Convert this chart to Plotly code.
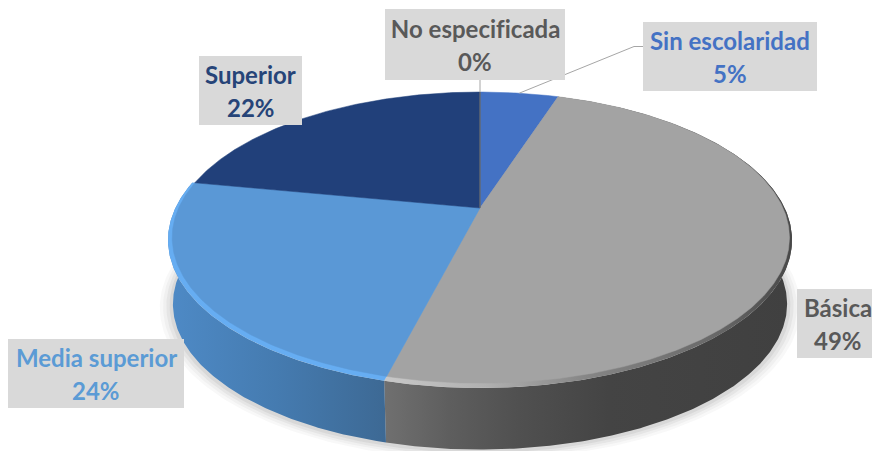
import numpy as np
import plotly.graph_objects as go

# ---- data ----
categories = ["Sin escolaridad", "Básica", "Media superior", "Superior", "No especificada"]
shares = [5, 49, 24, 22, 0]
pct_labels = ["5%", "49%", "24%", "22%", "0%"]

# ---- style ----
FACE = ["#4472c4", "#a3a3a3", "#5a98d6", "#21407a", "#707070"]
TEXT = ["#4472c4", "#595959", "#5b9bd5", "#264478", "#595959"]
BOX = {  # x0, x1, y0, y1
    "Sin escolaridad": (643, 817, 22, 91),
    "Básica": (797, 872, 289, 358),
    "Media superior": (8, 184, 339, 408),
    "Superior": (199, 302, 56, 125),
    "No especificada": (385, 565, 9, 80),
}
CX, CY = 480.0, 240.0   # centre of the projected ellipse (pixels)
RX, RY = 312.0, 148.0
APEX = 32.0             # the pie centre lies this far above the ellipse centre
DEPTH = 65.0
BOTTOM_R = 0.985
P = APEX * 2 / (2 * RY)
A = RX * np.sqrt(1 - P * P)


def project(deg, r=1.0, drop=0.0):
    """Perspective view of a point on the disc, angle clockwise from 12 o'clock."""
    a = np.radians(deg)
    u, v = r * np.sin(a), r * np.cos(a)
    w = 1 + P * v
    return CX + A * u / w, CY - (RY * v + APEX) / w + drop


def inset(deg):
    f = (1 - np.cos(np.radians(deg))) / 2
    return 1 - 0.021 * np.where(np.sin(np.radians(deg)) > 0, f * f, f)


def arc(a0, a1, n=None):
    n = n or max(3, int(abs(a1 - a0)) * 2 + 2)
    return np.linspace(a0, a1, n)


fig = go.Figure()

# soft shadow under the disc
whole = arc(0, 360, 361)
for grow, alpha in [(1.025, 0.035), (1.015, 0.045), (1.005, 0.06), (0.995, 0.07)]:
    x, y = project(whole, grow, DEPTH + 1)
    fig.add_trace(go.Scatter(x=x, y=y, mode="lines", fill="toself", line=dict(width=0),
                             fillcolor=f"rgba(60,60,60,{alpha})", hoverinfo="skip"))

# slice limits in degrees
limits = np.cumsum([0] + shares) * 3.6
WALLS = {
    "Básica": [[0, "#707070"], [0.16, "#5e5e5e"], [0.33, "#505050"], [0.55, "#444444"], [1, "#404040"]],
    "Media superior": [[0, "#4e8ac6"], [0.5, "#457bb0"], [1, "#3d6994"]],
}
RIMS = {
    "Básica": [[0, "#c8c8c8"], [0.25, "#b0b0b0"], [0.5, "#858585"], [0.8, "#6a6a6a"], [1, "#484848"]],
    "Media superior": [[0, "#66adf2"], [1, "#66adf2"]],
}

# side walls and bevelled rim
for i, name in enumerate(categories):
    a0, a1 = limits[i], limits[i + 1]
    if name in WALLS:
        t = arc(a0, a1)
        x1, y1 = project(t)
        x2, y2 = project(t[::-1], BOTTOM_R, DEPTH)
        xs, ys = np.r_[x1, x2, x1[0]], np.r_[y1, y2, y1[0]]
        fig.add_trace(go.Scatter(
            x=xs, y=ys, mode="lines", fill="toself", line=dict(width=0), hoverinfo="skip",
            fillgradient=dict(type="horizontal", colorscale=WALLS[name])))
for i, name in enumerate(categories):
    a0, a1 = limits[i], limits[i + 1]
    if name in RIMS:
        t = arc(a0, a1)
        x1, y1 = project(t)
        x0, y0 = project(0.0, 0.0)
        xs, ys = np.r_[x0, x1, x0], np.r_[y0, y1, y0]
        fig.add_trace(go.Scatter(
            x=xs, y=ys, mode="lines", fill="toself", line=dict(width=0), hoverinfo="skip",
            fillgradient=dict(type="horizontal", colorscale=RIMS[name])))

# top faces of the slices
for i, name in enumerate(categories):
    a0, a1 = limits[i], limits[i + 1]
    t = arc(a0, a1)
    x1, y1 = project(t, inset(t))
    x0, y0 = project(0.0, 0.0)
    if shares[i] == 0:
        x_end, y_end = project(a0)
        fig.add_trace(go.Scatter(x=[x0, x_end], y=[y0, y_end], mode="lines",
                                 line=dict(color=FACE[i], width=1.2), hoverinfo="skip"))
    else:
        fig.add_trace(go.Scatter(x=np.r_[x0, x1, x0], y=np.r_[y0, y1, y0], mode="lines",
                                 fill="toself", fillcolor=FACE[i],
                                 line=dict(color=FACE[i], width=0.5), hoverinfo="skip"))

# leader lines, from the slice's mid-angle to its label box
for i, name in enumerate(categories):
    if name in ("Sin escolaridad", "No especificada"):
        mx, my = project((limits[i] + limits[i + 1]) / 2)
        b = BOX[name]
        if name == "Sin escolaridad":
            xs, ys = [mx, b[0] - 9, b[0]], [my, (b[2] + b[3]) / 2 - 10, (b[2] + b[3]) / 2 - 10]
        else:
            xs, ys = [mx, mx], [my, b[3]]
        fig.add_trace(go.Scatter(x=xs, y=ys, mode="lines", line=dict(color="#a6a6a6", width=1),
                                 hoverinfo="skip"))

shapes, annotations = [], []
for i, name in enumerate(categories):
    x0, x1, y0, y1 = BOX[name]
    shapes.append(dict(type="rect", xref="x", yref="y", x0=x0, x1=x1, y0=y0, y1=y1,
                       fillcolor="#d9d9d9", line=dict(width=0), layer="above"))
    xc = (x0 + x1) / 2 + (3 if name == "Básica" else 0)
    yc = (y0 + y1) / 2
    for txt, dy in ((name, -16.5), (pct_labels[i], 16.5)):
        annotations.append(dict(x=xc, y=yc + dy, xref="x", yref="y", text=f"<b>{txt}</b>",
                                showarrow=False, xanchor="center", yanchor="middle",
                                font=dict(family="Lato", size=24, color=TEXT[i])))

fig.update_layout(
    width=872, height=451, margin=dict(l=0, r=0, t=0, b=0),
    paper_bgcolor="white", plot_bgcolor="white", showlegend=False,
    xaxis=dict(range=[0, 872], visible=False, fixedrange=True),
    yaxis=dict(range=[451, 0], visible=False, fixedrange=True),
    shapes=shapes, annotations=annotations,
)
fig.write_html("out.html", config=dict(displayModeBar=False),
               post_script="document.body.style.margin='0';document.body.style.overflow='hidden';"
                           "document.head.insertAdjacentHTML('beforeend',"
                           "'<style>text{font-variant-ligatures:none;letter-spacing:0.01px}</style>');")
